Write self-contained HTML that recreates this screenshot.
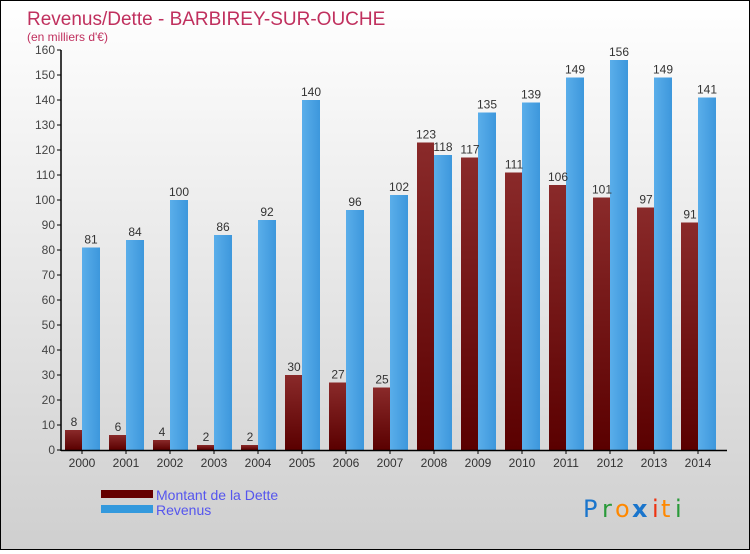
<!DOCTYPE html>
<html><head><meta charset="utf-8"><style>
html,body{margin:0;padding:0}
body{width:750px;height:550px;overflow:hidden;font-family:"Liberation Sans",sans-serif}
#wrap{position:relative;width:748px;height:548px;border:1px solid #000;background:linear-gradient(#ffffff,#cfcfcf)}
</style></head><body>
<div id="wrap">
<svg id="chart" width="748" height="548">
<defs>
<linearGradient id="gd" x1="0" y1="0" x2="0" y2="1"><stop offset="0" stop-color="#8a2a2a"/><stop offset="1" stop-color="#5a0000"/></linearGradient>
<linearGradient id="gr" x1="0" y1="0" x2="1" y2="0"><stop offset="0" stop-color="#5aaeea"/><stop offset="1" stop-color="#3d97dc"/></linearGradient>
</defs>
<text x="26" y="24" font-size="19" fill="#c0305e">Revenus/Dette - BARBIREY-SUR-OUCHE</text>
<text x="26" y="40" font-size="12" fill="#c0305e">(en milliers d'€)</text>
<g id="plot"></g>
<rect x="100" y="489" width="52" height="8" fill="#650000"/>
<rect x="100" y="504" width="52" height="8" fill="#3399dd"/>
<text x="155" y="499" font-size="14" fill="#5555ee">Montant de la Dette</text>
<text x="155" y="514" font-size="14" fill="#5555ee">Revenus</text>
<g font-size="24" font-family="'DejaVu Sans',sans-serif">
<text x="582" y="516" fill="#1a75cc">P</text><text x="601" y="516" fill="#2a9a3a">r</text><text x="614" y="516" fill="#ff8800">o</text><text x="631" y="516" fill="#1a75cc" font-weight="bold">x</text><text x="651" y="516" fill="#ee3311">i</text><text x="660" y="516" fill="#ff8800">t</text><text x="674" y="516" fill="#2a9a3a">i</text>
</g>
</svg>
</div>
<script>
const years=["2000","2001","2002","2003","2004","2005","2006","2007","2008","2009","2010","2011","2012","2013","2014"];
const dette=[8,6,4,2,2,30,27,25,123,117,111,106,101,97,91];
const revenus=[81,84,100,86,92,140,96,102,118,135,139,149,156,149,141];
const yTicks=[0,10,20,30,40,50,60,70,80,90,100,110,120,130,140,150,160];
const NS="http://www.w3.org/2000/svg";
const g=document.getElementById('plot');
const y=v=>449-v*2.5;
const xc=i=>81+i*44;
function mk(t,a,txt){const e=document.createElementNS(NS,t);for(const k in a)e.setAttribute(k,a[k]);if(txt!==undefined)e.textContent=txt;g.appendChild(e);return e;}
yTicks.forEach(t=>{
 const l=mk('line',{x1:56,x2:60,y1:y(t),y2:y(t),stroke:'#000'});
 
 
 const tx=mk('text',{x:54,y:y(t)+4,'font-size':12,fill:'#444','text-anchor':'end'},t);
 
 
});
years.forEach((yr,i)=>{
 const c=xc(i);
 const d=mk('rect',{x:c-17,y:y(dette[i]),width:17,height:dette[i]*2.5,fill:'url(#gd)'});
 
 
 const r=mk('rect',{x:c,y:y(revenus[i]),width:18,height:revenus[i]*2.5,fill:'url(#gr)'});
 
 
 const dl=mk('text',{x:c-8,y:y(dette[i])-4,'font-size':12,fill:'#333','text-anchor':'middle'},dette[i]);
 
 
 const rl=mk('text',{x:c+9,y:y(revenus[i])-4,'font-size':12,fill:'#333','text-anchor':'middle'},revenus[i]);
 
 
 const tk=mk('line',{x1:c,x2:c,y1:449,y2:453,stroke:'#000'});
 
 
 const xl=mk('text',{x:c,y:466,'font-size':12,fill:'#333','text-anchor':'middle'},yr);
 
 
});
const ya=mk('line',{x1:60,x2:60,y1:49,y2:450,stroke:'#000','stroke-width':1.5});


const xa=mk('line',{x1:60,x2:726,y1:449.5,y2:449.5,stroke:'#000','stroke-width':1.5});


</script>
</body></html>
